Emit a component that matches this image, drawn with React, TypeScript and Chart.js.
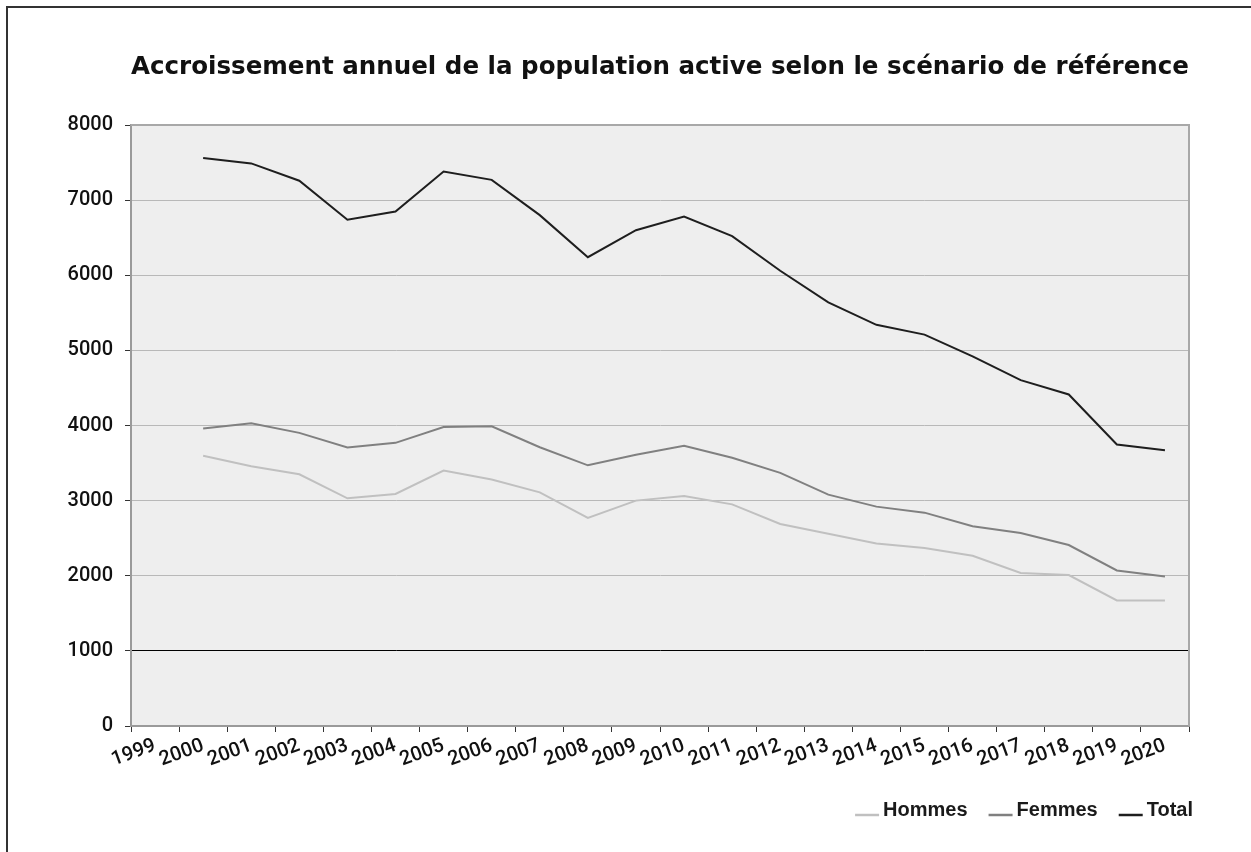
import React, { useEffect, useRef } from 'react';
import { Chart, registerables } from 'chart.js';

Chart.register(...registerables);

const years = ['1999', '2000', '2001', '2002', '2003', '2004', '2005', '2006', '2007', '2008', '2009', '2010', '2011', '2012', '2013', '2014', '2015', '2016', '2017', '2018', '2019', '2020'];

const hommes = [null, 3596, 3458, 3351, 3031, 3089, 3400, 3280, 3110, 2770, 3000, 3060, 2950, 2690, 2560, 2430, 2370, 2267, 2036, 2009, 1671, 1671];
const femmes = [null, 3960, 4031, 3902, 3707, 3769, 3980, 3990, 3710, 3470, 3610, 3730, 3570, 3370, 3080, 2920, 2840, 2658, 2569, 2409, 2071, 1991];
const total = [null, 7560, 7489, 7258, 6738, 6849, 7380, 7270, 6800, 6240, 6600, 6780, 6520, 6060, 5640, 5340, 5210, 4920, 4604, 4413, 3747, 3671];

const seriesNames = ['Hommes', 'Femmes', 'Total'];
const seriesColors = ['#c0c0c0', '#808080', '#1e1e1e'];
const titleText = 'Accroissement annuel de la population active selon le scénario de référence';

const FONT = "'Liberation Sans', Arial, sans-serif";
const TICK_FONT = "Roboto, 'Liberation Sans', Arial, sans-serif";

const bgPlugin = {
  id: 'bgPlugin',
  beforeDraw(chart: any) {
    const { ctx, chartArea, width, height } = chart;
    ctx.save();
    ctx.fillStyle = '#ffffff';
    ctx.fillRect(0, 0, width, height);
    ctx.fillStyle = '#eeeeee';
    ctx.fillRect(chartArea.left, chartArea.top, chartArea.right - chartArea.left, chartArea.bottom - chartArea.top);
    ctx.restore();
  },
  beforeDatasetsDraw(chart: any) {
    const { ctx, chartArea } = chart;
    ctx.save();
    ctx.strokeStyle = '#a8a8a8';
    ctx.lineWidth = 2;
    ctx.beginPath();
    ctx.moveTo(chartArea.left, chartArea.top);
    ctx.lineTo(chartArea.right, chartArea.top);
    ctx.lineTo(chartArea.right, chartArea.bottom);
    ctx.stroke();
    ctx.restore();
  },
  afterDraw(chart: any) {
    const { ctx, width, height } = chart;
    ctx.save();
    // outer frame
    ctx.strokeStyle = '#333333';
    ctx.lineWidth = 2;
    ctx.beginPath();
    ctx.moveTo(7, height + 5);
    ctx.lineTo(7, 7);
    ctx.lineTo(width + 5, 7);
    ctx.stroke();
    // legend
    ctx.font = `bold 20px ${FONT}`;
    ctx.textBaseline = 'middle';
    ctx.textAlign = 'left';
    const sample = 24;
    const gapText = 4;
    const gapItem = 21;
    const ds = chart.data.datasets;
    const widths = ds.map((d: any) => sample + gapText + ctx.measureText(d.label).width);
    const totalW = widths.reduce((a: number, b: number) => a + b, 0) + gapItem * (ds.length - 1);
    let x = 1193 - totalW;
    const cy = 810;
    ds.forEach((d: any, i: number) => {
      ctx.strokeStyle = d.borderColor;
      ctx.lineWidth = 2.5;
      ctx.beginPath();
      ctx.moveTo(x, cy + 5);
      ctx.lineTo(x + sample, cy + 5);
      ctx.stroke();
      ctx.fillStyle = '#1a1a1a';
      ctx.fillText(d.label, x + sample + gapText, cy);
      x += widths[i] + gapItem;
    });
    ctx.restore();
  },
};

export default function App() {
  const ref = useRef<HTMLCanvasElement | null>(null);

  useEffect(() => {
    document.body.style.margin = '0';
    document.body.style.overflow = 'hidden';
    const canvas = ref.current;
    if (!canvas) return;
    const tickFont = { family: TICK_FONT, size: 20, weight: 500 as const };
    const chart = new Chart(canvas, {
      type: 'line',
      data: {
        labels: years,
        datasets: [
          { label: seriesNames[0], data: hommes, borderColor: seriesColors[0], backgroundColor: seriesColors[0], borderWidth: 2 },
          { label: seriesNames[1], data: femmes, borderColor: seriesColors[1], backgroundColor: seriesColors[1], borderWidth: 2 },
          { label: seriesNames[2], data: total, borderColor: seriesColors[2], backgroundColor: seriesColors[2], borderWidth: 2 },
        ],
      },
      options: {
        animation: false,
        responsive: false,
        maintainAspectRatio: false,
        layout: { padding: { left: 0, right: 62, top: 0, bottom: 40 } },
        elements: { point: { radius: 0, hoverRadius: 0 }, line: { tension: 0 } },
        plugins: {
          legend: { display: false },
          tooltip: { enabled: false },
          title: {
            display: true,
            fullSize: false,
            text: titleText,
            color: '#111111',
            font: { family: "'DejaVu Sans', 'Liberation Sans', Arial, sans-serif", size: 25, weight: 'bold' },
            padding: { top: 52, bottom: 43 },
          },
        },
        scales: {
          x: {
            type: 'category',
            offset: true,
            grid: { offset: true, drawOnChartArea: false, drawTicks: true, tickLength: 6, tickColor: '#333333', tickWidth: 1 },
            border: { color: '#9a9a9a', width: 2 },
            ticks: { autoSkip: false, minRotation: 20, maxRotation: 20, padding: 2, color: '#111111', font: tickFont },
            afterFit: (s: any) => { s.height = 86; },
          },
          y: {
            min: 0,
            max: 8000,
            ticks: { stepSize: 1000, padding: 12, color: '#111111', font: tickFont, callback: (v: any) => String(v) },
            grid: {
              color: (c: any) => (c.tick && c.tick.value === 1000 ? '#000000' : '#b8b8b8'),
              lineWidth: 1,
              tickLength: 6,
              tickColor: '#333333',
            },
            border: { color: '#9a9a9a', width: 2 },
            afterFit: (s: any) => { s.width = 131; },
          },
        },
      },
      plugins: [bgPlugin],
    });
    return () => chart.destroy();
  }, []);

  return (
    <div style={{ width: 1251, height: 852 }}>
      <canvas ref={ref} width={1251} height={852} style={{ display: 'block', width: 1251, height: 852 }} />
    </div>
  );
}
